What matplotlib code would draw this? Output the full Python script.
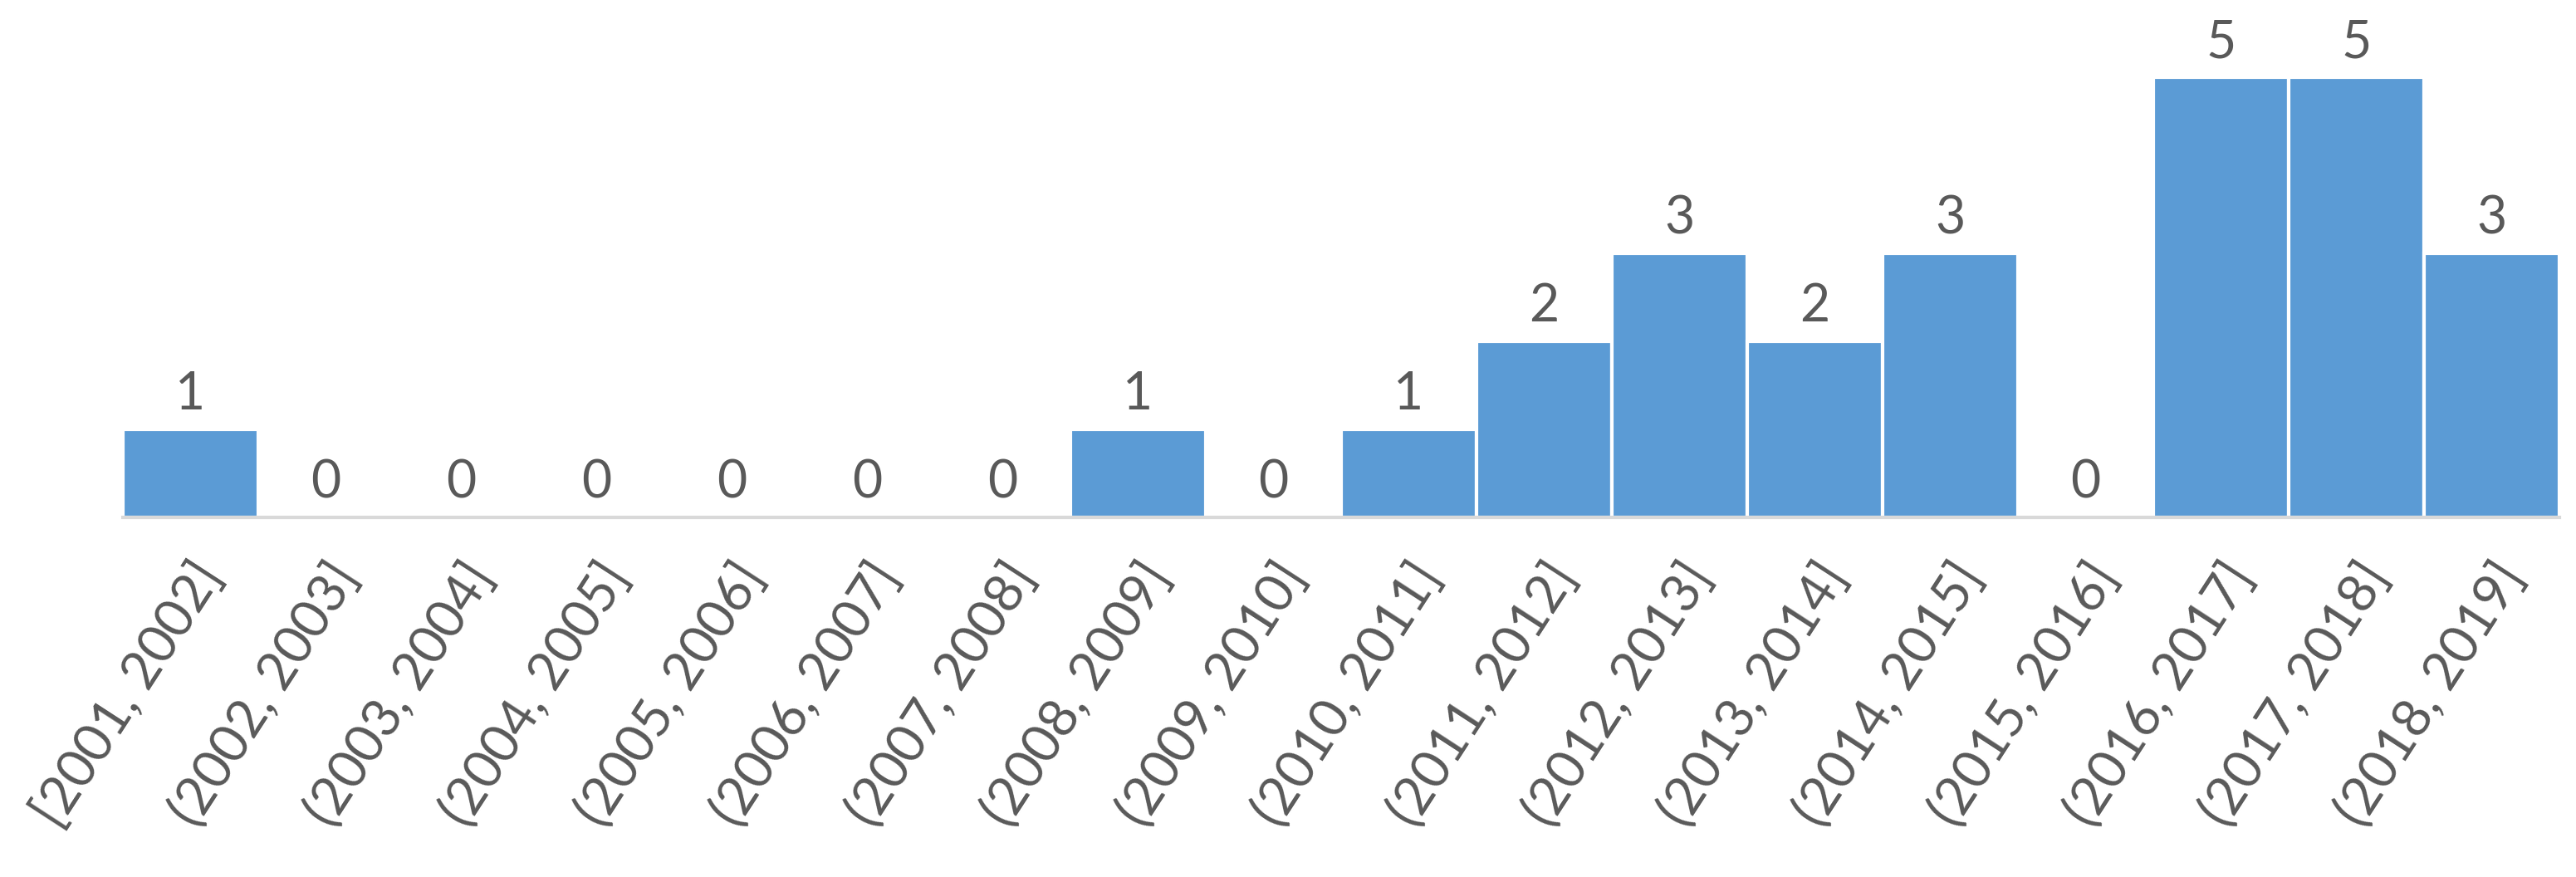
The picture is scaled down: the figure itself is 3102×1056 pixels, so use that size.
import matplotlib
matplotlib.use("Agg")
import matplotlib.pyplot as plt
import numpy as np

categories = ["[2001, 2002]", "(2002, 2003]", "(2003, 2004]", "(2004, 2005]",
              "(2005, 2006]", "(2006, 2007]", "(2007, 2008]", "(2008, 2009]",
              "(2009, 2010]", "(2010, 2011]", "(2011, 2012]", "(2012, 2013]",
              "(2013, 2014]", "(2014, 2015]", "(2015, 2016]", "(2016, 2017]",
              "(2017, 2018]", "(2018, 2019]"]
counts = [1, 0, 0, 0, 0, 0, 0, 1, 0, 1, 2, 3, 2, 3, 0, 5, 5, 3]

plt.rcParams['font.family'] = ['Lato', 'DejaVu Sans']

fig = plt.figure(figsize=(31.02, 10.56), dpi=100)
ax = fig.add_axes([0.0477, 0.410, 0.9459, 0.552])

x = np.arange(len(categories))
bars = ax.bar(x, counts, width=1.0, color="#5B9BD5", edgecolor="white", linewidth=3)

for xi, v in zip(x, counts):
    ax.text(xi, v + 0.12, str(v), ha="center", va="bottom", fontsize=45, color="#595959")

ax.set_xlim(-0.5, len(categories) - 0.5)
ax.set_ylim(0, 5.5)
ax.set_xticks(x)
ax.set_xticklabels(categories, rotation=57, ha="right", rotation_mode="anchor",
                   fontsize=46, color="#595959")
ax.tick_params(axis="x", length=0, pad=32)
ax.set_yticks([])
for s in ["top", "right", "left"]:
    ax.spines[s].set_visible(False)
ax.spines["bottom"].set_color("#D9D9D9")
ax.spines["bottom"].set_linewidth(3)

fig.savefig("out.png", dpi=100)
